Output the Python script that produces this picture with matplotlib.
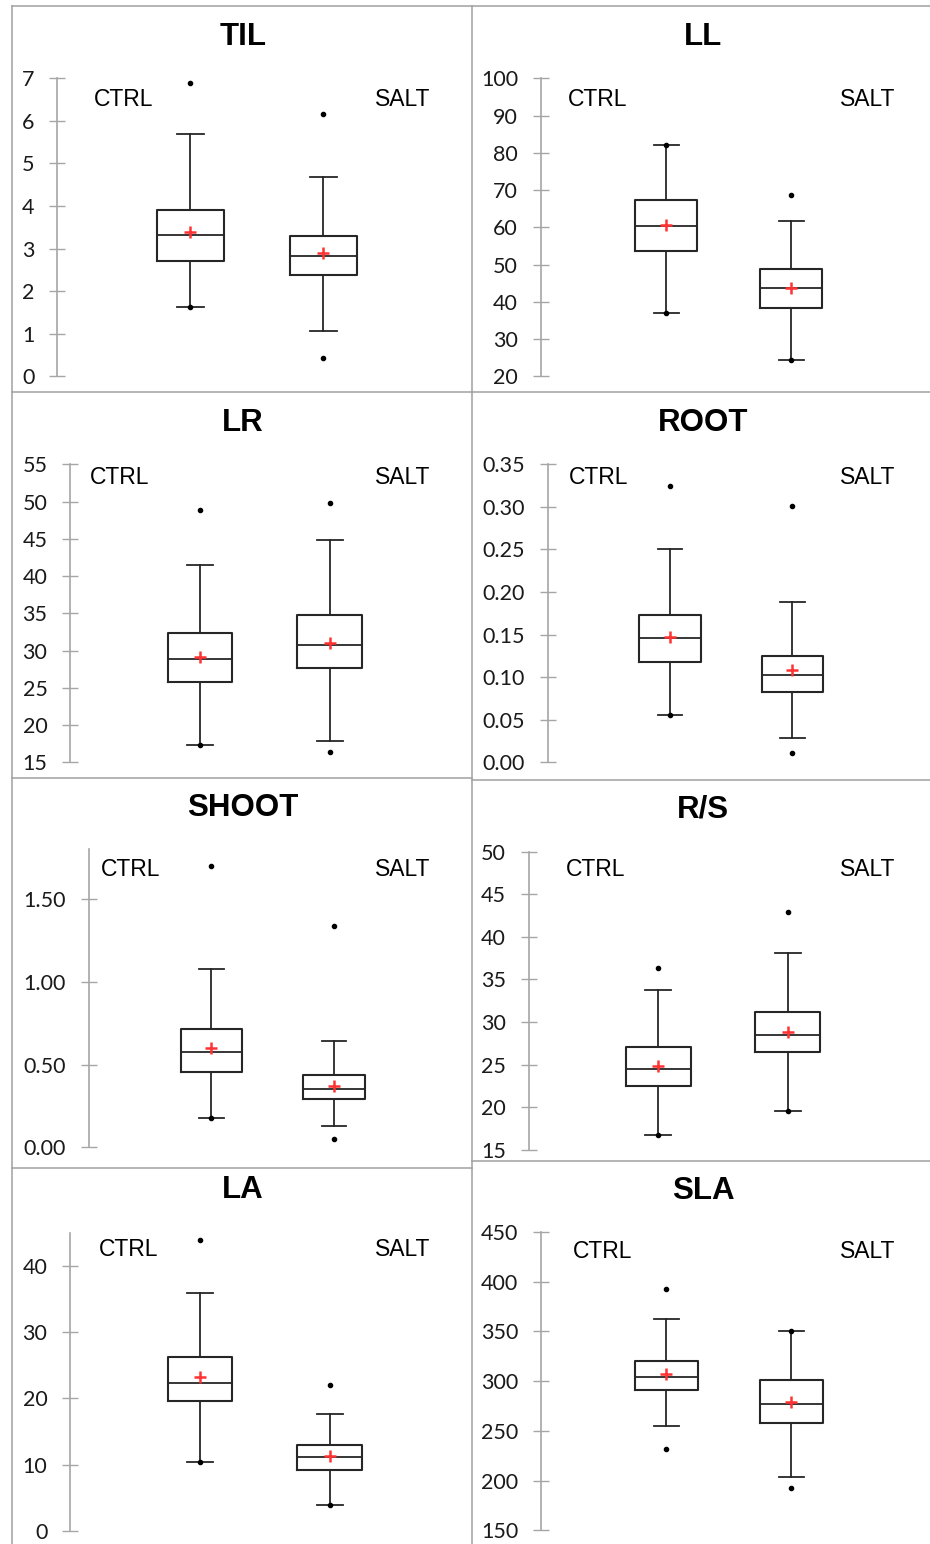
import numpy as np
import matplotlib
matplotlib.use("Agg")
import matplotlib.pyplot as plt
from matplotlib.lines import Line2D

# box statistics per trait, each entry is [CTRL, SALT]
traits = ["TIL", "LL", "LR", "ROOT", "SHOOT", "R/S", "LA", "SLA"]
groups = ["CTRL", "SALT"]

minimum = [[1.63, 0.43], [37.0, 24.3], [17.33, 16.4], [0.056, 0.011],
           [0.177, 0.050], [16.72, 19.58], [10.33, 3.88], [232.1, 192.5]]
whis_lo = [[1.63, 1.06], [37.0, 24.3], [17.33, 17.82], [0.056, 0.029],
           [0.177, 0.129], [16.72, 19.58], [10.33, 3.88], [255.2, 203.3]]
q1 = [[2.72, 2.39], [53.6, 38.3], [25.74, 27.7], [0.1174, 0.0822],
      [0.457, 0.290], [22.47, 26.43], [19.55, 9.17], [291.4, 257.9]]
median = [[3.31, 2.83], [60.35, 43.6], [28.83, 30.75], [0.1456, 0.1021],
          [0.574, 0.354], [24.47, 28.43], [22.37, 11.08], [304.5, 276.7]]
mean = [[3.38, 2.89], [60.5, 43.8], [29.1, 31.06], [0.1476, 0.108],
        [0.602, 0.370], [24.82, 28.78], [23.17, 11.28], [307.5, 279.4]]
q3 = [[3.91, 3.30], [67.3, 48.9], [32.36, 34.82], [0.1726, 0.1252],
      [0.715, 0.435], [27.02, 31.21], [26.2, 12.9], [320.3, 300.8]]
whis_hi = [[5.70, 4.67], [82.0, 61.6], [41.5, 44.8], [0.2509, 0.1887],
           [1.077, 0.644], [33.71, 38.06], [35.87, 17.63], [362.2, 350.8]]
maximum = [[6.89, 6.15], [82.0, 68.6], [48.8, 49.77], [0.3245, 0.3014],
           [1.697, 1.335], [36.3, 42.91], [43.98, 22.0], [392.7, 350.8]]

y_limits = [(0, 7), (20, 100), (15, 55), (0, 0.35), (0, 1.8), (15, 50), (0, 45), (150, 450)]
y_ticks = [np.arange(0, 7.1, 1), np.arange(20, 101, 10), np.arange(15, 56, 5),
           np.arange(0, 0.351, 0.05), np.arange(0, 1.51, 0.5), np.arange(15, 51, 5),
           np.arange(0, 41, 10), np.arange(150, 451, 50)]
tick_fmt = ["%d", "%d", "%d", "%.2f", "%.2f", "%d", "%d", "%d"]

W, H = 930, 1544

# pixel layout: axis x, CTRL-SALT spacing, top and bottom of y range
layout = [(57.3, 133.0, 78.3, 376.3), (541.0, 125.0, 78.3, 376.3),
          (70.3, 129.7, 464.3, 762.3), (547.7, 122.3, 464.3, 762.3),
          (88.7, 122.6, 849.4, 1147.3), (529.0, 129.3, 851.7, 1149.7),
          (70.3, 129.7, 1232.9, 1530.7), (541.3, 125.0, 1232.0, 1530.3)]
title_xy = [(243, 37), (703, 37), (243, 423), (703, 423),
            (243, 808), (703, 809), (243, 1190), (703, 1191)]
label_xy = [(94, 375, 99), (568, 840, 99), (90, 375, 478), (569, 840, 478),
            (101, 375, 869), (566, 840, 869), (99, 375, 1250), (573, 840, 1251)]

edge = "#262626"
gray = "#a6a6a6"


def fx(x):
    return x / W


def fy(y):
    return 1 - y / H


fig = plt.figure(figsize=(W / 100, H / 100), dpi=100)

# panel frames
frame = [((12, 930), (6, 6)), ((12, 930), (392, 392)), ((12, 472), (778, 778)),
         ((472, 930), (780, 780)), ((12, 472), (1168, 1168)), ((472, 930), (1161, 1161)),
         ((12, 12), (6, 1544)), ((472, 472), (6, 1544))]
for xs, ys in frame:
    fig.add_artist(Line2D([fx(v) for v in xs], [fy(v) for v in ys],
                          transform=fig.transFigure, color="#a0a0a0", lw=1.1))

for i, name in enumerate(traits):
    ax_x, sp, ytop, ybot = layout[i]
    ax = fig.add_axes([fx(ax_x), fy(ybot), 3 * sp / W, (ybot - ytop) / H])
    ax.set_xlim(0, 3)
    ax.set_ylim(*y_limits[i])

    stats = []
    for g in range(2):
        stats.append(dict(med=median[i][g], q1=q1[i][g], q3=q3[i][g],
                          whislo=whis_lo[i][g], whishi=whis_hi[i][g],
                          mean=mean[i][g], fliers=[], label=groups[g]))
    ax.bxp(stats, positions=[1, 2], widths=0.5, capwidths=0.2,
           showmeans=True, showfliers=False,
           boxprops=dict(color=edge, lw=1.5),
           whiskerprops=dict(color=edge, lw=1.3),
           capprops=dict(color=edge, lw=1.3),
           medianprops=dict(color=edge, lw=1.3),
           meanprops=dict(marker="+", markersize=9, markeredgewidth=1.8,
                          markeredgecolor="#ff3333"))
    for g in range(2):
        ax.plot([g + 1, g + 1], [minimum[i][g], maximum[i][g]], ls="none",
                marker="o", ms=3, color="black", clip_on=False)

    for s in ["top", "right", "bottom"]:
        ax.spines[s].set_visible(False)
    ax.spines["left"].set_color(gray)
    ax.spines["left"].set_linewidth(1.2)
    ax.set_xticks([])
    ax.set_yticks(y_ticks[i])
    ax.set_yticklabels([tick_fmt[i] % v for v in y_ticks[i]])
    ax.tick_params(axis="y", direction="inout", length=12, width=1.0, color=gray,
                   pad=10.5, labelsize=15.5, labelcolor="#1a1a1a")
    for t in ax.get_yticklabels():
        t.set_fontfamily("Lato")
    ax.patch.set_visible(False)

    tx, ty = title_xy[i]
    fig.text(fx(tx), fy(ty), name, ha="center", va="center", fontsize=22.5,
             fontweight="bold", family="Liberation Sans")
    cx, sx, ly = label_xy[i]
    fig.text(fx(cx), fy(ly), groups[0], ha="left", va="center", fontsize=16.5,
             family="Liberation Sans")
    fig.text(fx(sx), fy(ly), groups[1], ha="left", va="center", fontsize=16.5,
             family="Liberation Sans")

fig.savefig("out.png", dpi=100)
